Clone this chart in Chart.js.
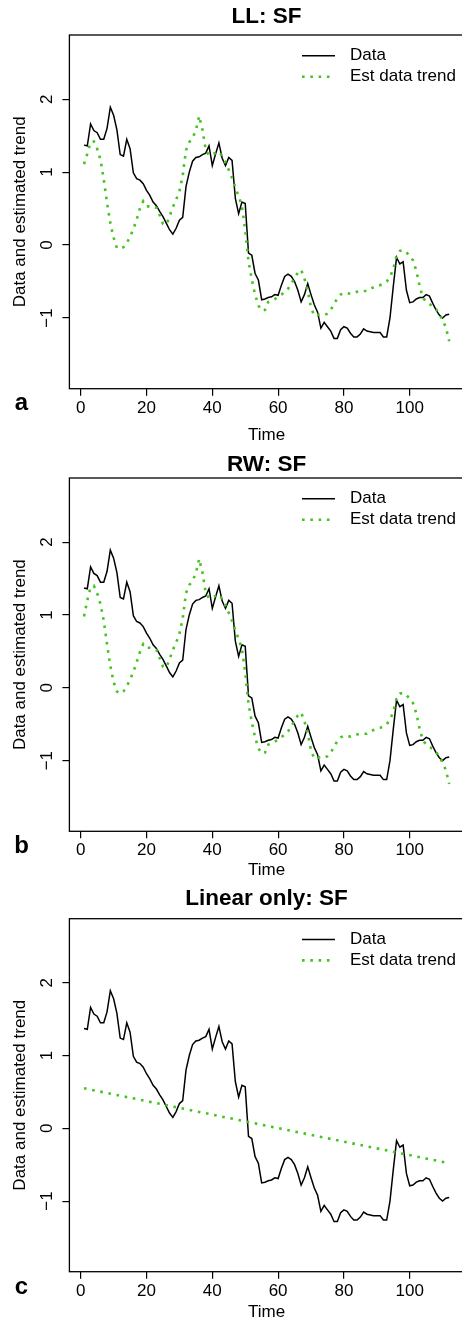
<!DOCTYPE html>
<html>
<head>
<meta charset="utf-8">
<script src="https://cdn.jsdelivr.net/npm/chart.js@4.4.1/dist/chart.umd.min.js"></script>
<style>
  html, body { margin: 0; padding: 0; background: #fff; }
  body { width: 462px; height: 1323px; overflow: hidden; position: relative; }
  canvas { position: absolute; left: 0; }
</style>
</head>
<body>
<canvas id="chartA" width="470" height="450" style="top:0px"></canvas>
<canvas id="chartB" width="470" height="450" style="top:443px"></canvas>
<canvas id="chartC" width="470" height="450" style="top:884px"></canvas>
<script>
// time index of the SF series
const time = [
  1, 2, 3, 4, 5, 6, 7, 8, 9, 10, 11, 12, 13, 14, 15, 16, 17, 18, 19, 20,
  21, 22, 23, 24, 25, 26, 27, 28, 29, 30, 31, 32, 33, 34, 35, 36, 37, 38, 39, 40,
  41, 42, 43, 44, 45, 46, 47, 48, 49, 50, 51, 52, 53, 54, 55, 56, 57, 58, 59, 60,
  61, 62, 63, 64, 65, 66, 67, 68, 69, 70, 71, 72, 73, 74, 75, 76, 77, 78, 79, 80,
  81, 82, 83, 84, 85, 86, 87, 88, 89, 90, 91, 92, 93, 94, 95, 96, 97, 98, 99, 100,
  101, 102, 103, 104, 105, 106, 107, 108, 109, 110, 111, 112
];

// observed data (black line, same in all three panels)
const sfData = [
  1.37, 1.36, 1.66, 1.57, 1.54, 1.45, 1.45, 1.60, 1.89, 1.78,
  1.58, 1.24, 1.22, 1.45, 1.32, 0.99, 0.91, 0.89, 0.84, 0.75,
  0.68, 0.59, 0.54, 0.46, 0.39, 0.30, 0.21, 0.15, 0.23, 0.34,
  0.38, 0.80, 1.00, 1.15, 1.20, 1.21, 1.24, 1.26, 1.36, 1.09,
  1.25, 1.40, 1.19, 1.09, 1.20, 1.16, 0.64, 0.43, 0.59, 0.57,
  -0.11, -0.14, -0.39, -0.48, -0.75, -0.74, -0.72, -0.71, -0.68, -0.69,
  -0.55, -0.43, -0.40, -0.43, -0.50, -0.62, -0.78, -0.68, -0.53, -0.68,
  -0.82, -0.92, -1.14, -1.06, -1.12, -1.18, -1.28, -1.28, -1.16, -1.12,
  -1.14, -1.21, -1.26, -1.26, -1.22, -1.15, -1.18, -1.19, -1.20, -1.20,
  -1.20, -1.26, -1.26, -1.00, -0.57, -0.17, -0.26, -0.23, -0.62, -0.79,
  -0.78, -0.74, -0.72, -0.72, -0.68, -0.70, -0.80, -0.89, -0.96, -1.00,
  -0.96, -0.95
];

// estimated trend, local level model
const llTrend = [
  1.11, 1.25, 1.41, 1.42, 1.32, 1.17, 0.90, 0.58, 0.30, 0.10,
  -0.04, -0.05, -0.03, 0.03, 0.11, 0.22, 0.35, 0.50, 0.60, 0.53,
  0.53, 0.53, 0.51, 0.41, 0.29, 0.28, 0.39, 0.52, 0.62, 0.74,
  0.95, 1.30, 1.41, 1.47, 1.57, 1.77, 1.58, 1.30, 1.23, 1.25,
  1.26, 1.28, 1.22, 1.13, 1.03, 0.92, 0.79, 0.67, 0.53, 0.21,
  -0.22, -0.47, -0.68, -0.83, -0.90, -0.89, -0.78, -0.76, -0.74, -0.71,
  -0.68, -0.64, -0.60, -0.53, -0.45, -0.38, -0.34, -0.46, -0.62, -0.86,
  -0.97, -0.96, -0.95, -0.96, -0.94, -0.89, -0.81, -0.73, -0.68, -0.66,
  -0.66, -0.67, -0.66, -0.64, -0.63, -0.63, -0.63, -0.60, -0.58, -0.56,
  -0.55, -0.53, -0.50, -0.44, -0.33, -0.15, -0.08, -0.07, -0.10, -0.15,
  -0.21, -0.35, -0.56, -0.72, -0.78, -0.81, -0.84, -0.88, -0.95, -1.03,
  -1.13, -1.32
];

// estimated trend, random walk model
const rwTrend = [
  0.98, 1.20, 1.38, 1.40, 1.30, 1.15, 0.92, 0.60, 0.30, 0.08,
  -0.05, -0.08, -0.05, 0.02, 0.11, 0.22, 0.35, 0.49, 0.60, 0.55,
  0.55, 0.54, 0.52, 0.41, 0.29, 0.28, 0.39, 0.52, 0.62, 0.74,
  0.95, 1.30, 1.41, 1.47, 1.57, 1.77, 1.58, 1.30, 1.23, 1.25,
  1.26, 1.28, 1.22, 1.13, 1.03, 0.92, 0.79, 0.67, 0.53, 0.21,
  -0.22, -0.47, -0.68, -0.83, -0.90, -0.89, -0.78, -0.76, -0.74, -0.71,
  -0.68, -0.64, -0.60, -0.53, -0.45, -0.38, -0.34, -0.46, -0.62, -0.86,
  -0.97, -0.96, -0.95, -0.96, -0.94, -0.89, -0.81, -0.73, -0.68, -0.66,
  -0.66, -0.67, -0.66, -0.64, -0.63, -0.63, -0.63, -0.60, -0.58, -0.56,
  -0.55, -0.53, -0.50, -0.44, -0.33, -0.15, -0.08, -0.07, -0.10, -0.15,
  -0.21, -0.35, -0.56, -0.72, -0.78, -0.81, -0.84, -0.88, -0.95, -1.03,
  -1.13, -1.32
];

// linear trend only: end points
const linearTime = [1, 112];
const linearTrend = [0.55, -0.48];

const xTicks = [0, 20, 40, 60, 80, 100];
const yTicks = [-1, 0, 1, 2];
const legendLabels = ["Data", "Est data trend"];

const FONT = "'Liberation Sans', Arial, Helvetica, sans-serif";
const GREEN = "#44c41f";

Chart.defaults.font.family = FONT;
Chart.defaults.color = "#000";

function toPoints(xs, ys) {
  return xs.map((x, i) => ({ x: x, y: ys[i] }));
}

function fmt(v) {
  return v < 0 ? "\u2212" + Math.abs(v) : String(v);
}

// box, legend inside the plot and the panel letter
const panelDecor = {
  id: "panelDecor",
  afterDraw(chart, args, opts) {
    const { ctx, chartArea: a } = chart;
    ctx.save();
    ctx.strokeStyle = "#000";
    ctx.lineWidth = 1.3;
    ctx.strokeRect(a.left, a.top, a.right - a.left, a.bottom - a.top);

    ctx.font = "17px " + FONT;
    ctx.textBaseline = "middle";
    ctx.textAlign = "left";
    ctx.fillStyle = "#000";
    chart.data.datasets.forEach((d, i) => {
      const y = a.top + 20.7 + i * 21;
      ctx.strokeStyle = d.borderColor;
      ctx.lineWidth = d.borderWidth;
      ctx.lineCap = "butt";
      ctx.setLineDash(d.borderDash || []);
      ctx.beginPath();
      ctx.moveTo(302, y);
      ctx.lineTo(335, y);
      ctx.stroke();
      ctx.setLineDash([]);
      ctx.fillText(d.label, 350, y);
    });

    ctx.font = "bold 24px " + FONT;
    ctx.textAlign = "center";
    ctx.textBaseline = "alphabetic";
    ctx.fillText(opts.letter, 21.5, 410.3);
    ctx.restore();
  }
};

function makePanel(id, p) {
  const ctx = document.getElementById(id).getContext("2d");
  return new Chart(ctx, {
    type: "line",
    data: {
      datasets: [
        {
          label: legendLabels[0],
          data: toPoints(time, sfData),
          borderColor: "#000",
          borderWidth: 1.5,
          pointRadius: 0,
          tension: 0,
          order: 1
        },
        {
          label: legendLabels[1],
          data: toPoints(p.trendX, p.trendY),
          borderColor: GREEN,
          borderWidth: 2.6,
          borderDash: [2.6, 5.7],
          borderCapStyle: "butt",
          pointRadius: 0,
          tension: 0,
          order: 0
        }
      ]
    },
    options: {
      responsive: false,
      animation: false,
      devicePixelRatio: 1,
      layout: { padding: { top: 0, left: 0, right: 470 - 463.8, bottom: 0 } },
      plugins: {
        legend: { display: false },
        tooltip: { enabled: false },
        title: {
          display: true,
          text: p.title,
          fullSize: false,
          color: "#000",
          font: { size: 22.5, weight: "bold" },
          padding: { top: p.titleTop, bottom: p.titleBottom }
        },
        panelDecor: { letter: p.letter }
      },
      scales: {
        x: {
          type: "linear",
          min: -3.44,
          max: 116.44,
          afterBuildTicks: s => { s.ticks = xTicks.map(v => ({ value: v })); },
          afterFit: s => { s.height = 450 - p.bottom; },
          grid: { drawOnChartArea: false, drawTicks: true, tickLength: 7, color: "#000", lineWidth: 1.2 },
          border: { display: false },
          ticks: { color: "#000", font: { size: 17 }, padding: 2, maxRotation: 0, autoSkip: false, callback: v => fmt(v) },
          title: { display: true, text: "Time", color: "#000", font: { size: 17 }, padding: { top: 0, bottom: p.timePad } }
        },
        y: {
          type: "linear",
          min: -1.97,
          max: 2.88,
          afterBuildTicks: s => { s.ticks = yTicks.map(v => ({ value: v })); },
          afterFit: s => { s.width = 69.4; },
          grid: { drawOnChartArea: false, drawTicks: true, tickLength: 7, color: "#000", lineWidth: 1.2 },
          border: { display: false },
          ticks: { color: "#000", font: { size: 17 }, padding: 5, minRotation: 90, maxRotation: 90, crossAlign: "center", autoSkip: false, callback: v => fmt(v) },
          title: { display: true, text: "Data and estimated trend", color: "#000", font: { size: 17 }, padding: { top: 9.8, bottom: 0 } }
        }
      }
    },
    plugins: [panelDecor]
  });
}

makePanel("chartA", { title: "LL: SF", letter: "a", trendX: time, trendY: llTrend, titleTop: 3.2, titleBottom: 4.8, bottom: 388.7, timePad: 4.8 });
makePanel("chartB", { title: "RW: SF", letter: "b", trendX: time, trendY: rwTrend, titleTop: 8, titleBottom: 0, bottom: 388.3, timePad: 12.8 });
makePanel("chartC", { title: "Linear only: SF", letter: "c", trendX: linearTime, trendY: linearTrend, titleTop: 1.5, titleBottom: 6.2, bottom: 387.7, timePad: 11.8 });
</script>
</body>
</html>
